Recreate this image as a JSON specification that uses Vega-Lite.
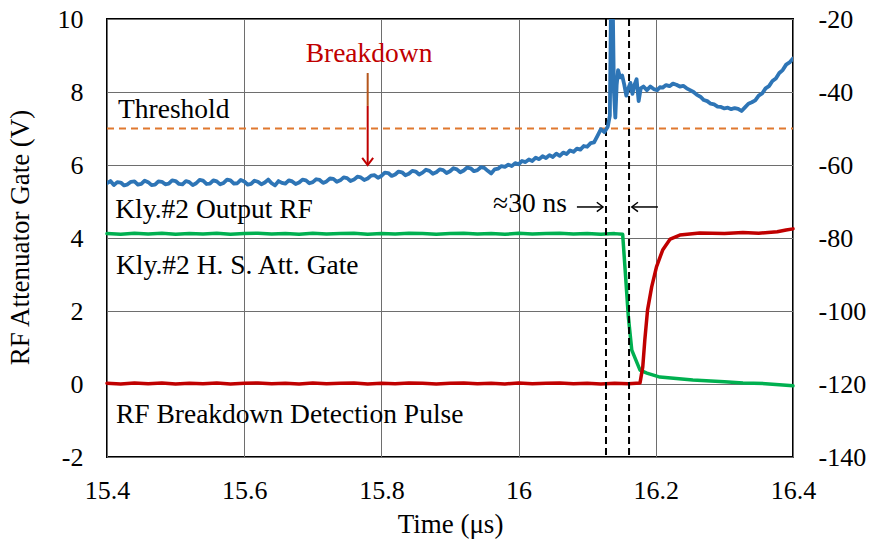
{
  "$schema": "https://vega.github.io/schema/vega-lite/v6.json",
  "autosize": {"type": "none"},
  "padding": {"left": 107, "top": 19, "right": 78, "bottom": 82},
  "width": 686,
  "height": 438,
  "background": "white",
  "config": {
    "font": "Liberation Serif",
    "view": {"stroke": "black", "strokeWidth": 2},
    "axis": {
      "domain": false,
      "ticks": false,
      "labelFont": "Liberation Serif",
      "labelFontSize": 26,
      "labelColor": "black",
      "labelFlush": false,
      "titleFont": "Liberation Serif",
      "titleFontSize": 27,
      "titleFontWeight": "normal",
      "titleColor": "black",
      "gridColor": "#6e6e6e",
      "gridWidth": 1,
      "gridOpacity": 1
    },
    "text": {"font": "Liberation Serif", "fontSize": 27.5}
  },
  "datasets": {
    "output_rf": [
      {"t": 15.40, "dbm": -65.0}, {"t": 15.405, "dbm": -64.4}, {"t": 15.41, "dbm": -65.5}, {"t": 15.415, "dbm": -64.7}, {"t": 15.42, "dbm": -64.8}, {"t": 15.425, "dbm": -65.6}, {"t": 15.43, "dbm": -65.3},
      {"t": 15.435, "dbm": -64.6}, {"t": 15.44, "dbm": -64.5}, {"t": 15.445, "dbm": -65.4}, {"t": 15.45, "dbm": -65.2}, {"t": 15.455, "dbm": -64.3}, {"t": 15.46, "dbm": -64.7}, {"t": 15.465, "dbm": -65.5}, {"t": 15.47, "dbm": -65.4},
      {"t": 15.475, "dbm": -64.5}, {"t": 15.48, "dbm": -64.6}, {"t": 15.485, "dbm": -65.3}, {"t": 15.49, "dbm": -65.1}, {"t": 15.495, "dbm": -64.2}, {"t": 15.50, "dbm": -64.4}, {"t": 15.505, "dbm": -65.2}, {"t": 15.51, "dbm": -65.3},
      {"t": 15.515, "dbm": -64.4}, {"t": 15.52, "dbm": -64.7}, {"t": 15.525, "dbm": -65.5}, {"t": 15.53, "dbm": -65.0}, {"t": 15.535, "dbm": -64.1}, {"t": 15.54, "dbm": -64.3}, {"t": 15.545, "dbm": -65.2}, {"t": 15.55, "dbm": -65.1},
      {"t": 15.555, "dbm": -64.2}, {"t": 15.56, "dbm": -64.5}, {"t": 15.565, "dbm": -65.3}, {"t": 15.57, "dbm": -64.9}, {"t": 15.575, "dbm": -64.0}, {"t": 15.58, "dbm": -64.2}, {"t": 15.585, "dbm": -65.1}, {"t": 15.59, "dbm": -65.0},
      {"t": 15.595, "dbm": -64.1}, {"t": 15.60, "dbm": -64.5}, {"t": 15.605, "dbm": -65.4}, {"t": 15.61, "dbm": -65.2}, {"t": 15.615, "dbm": -64.3}, {"t": 15.62, "dbm": -64.6}, {"t": 15.625, "dbm": -65.3}, {"t": 15.63, "dbm": -64.8},
      {"t": 15.635, "dbm": -64.0}, {"t": 15.64, "dbm": -65.0}, {"t": 15.645, "dbm": -65.6}, {"t": 15.65, "dbm": -64.4}, {"t": 15.655, "dbm": -64.9}, {"t": 15.66, "dbm": -65.1}, {"t": 15.665, "dbm": -64.2}, {"t": 15.67, "dbm": -64.5},
      {"t": 15.675, "dbm": -65.2}, {"t": 15.68, "dbm": -64.8}, {"t": 15.685, "dbm": -64.0}, {"t": 15.69, "dbm": -64.2}, {"t": 15.695, "dbm": -65.0}, {"t": 15.70, "dbm": -64.7}, {"t": 15.705, "dbm": -63.9}, {"t": 15.71, "dbm": -64.1},
      {"t": 15.715, "dbm": -64.9}, {"t": 15.72, "dbm": -64.5}, {"t": 15.725, "dbm": -63.7}, {"t": 15.73, "dbm": -63.8}, {"t": 15.735, "dbm": -64.6}, {"t": 15.74, "dbm": -64.2}, {"t": 15.745, "dbm": -63.4}, {"t": 15.75, "dbm": -63.6},
      {"t": 15.755, "dbm": -64.4}, {"t": 15.76, "dbm": -64.0}, {"t": 15.765, "dbm": -63.2}, {"t": 15.77, "dbm": -63.4}, {"t": 15.775, "dbm": -64.1}, {"t": 15.78, "dbm": -63.7}, {"t": 15.785, "dbm": -62.9}, {"t": 15.79, "dbm": -62.8},
      {"t": 15.795, "dbm": -63.5}, {"t": 15.80, "dbm": -63.0}, {"t": 15.805, "dbm": -62.1}, {"t": 15.81, "dbm": -62.2}, {"t": 15.815, "dbm": -63.0}, {"t": 15.82, "dbm": -62.6}, {"t": 15.825, "dbm": -61.8}, {"t": 15.83, "dbm": -62.0},
      {"t": 15.835, "dbm": -62.8}, {"t": 15.84, "dbm": -62.4}, {"t": 15.845, "dbm": -61.6}, {"t": 15.85, "dbm": -61.8}, {"t": 15.855, "dbm": -62.6}, {"t": 15.86, "dbm": -62.1}, {"t": 15.865, "dbm": -61.3}, {"t": 15.87, "dbm": -61.6},
      {"t": 15.875, "dbm": -62.4}, {"t": 15.88, "dbm": -62.0}, {"t": 15.885, "dbm": -61.2}, {"t": 15.89, "dbm": -61.4}, {"t": 15.895, "dbm": -62.2}, {"t": 15.90, "dbm": -61.7}, {"t": 15.905, "dbm": -60.9}, {"t": 15.91, "dbm": -61.2},
      {"t": 15.915, "dbm": -62.0}, {"t": 15.92, "dbm": -61.5}, {"t": 15.925, "dbm": -60.7}, {"t": 15.93, "dbm": -60.9}, {"t": 15.935, "dbm": -61.7}, {"t": 15.94, "dbm": -61.4}, {"t": 15.945, "dbm": -60.6}, {"t": 15.95, "dbm": -60.8},
      {"t": 15.955, "dbm": -61.6}, {"t": 15.96, "dbm": -62.3}, {"t": 15.965, "dbm": -61.2}, {"t": 15.97, "dbm": -61.0}, {"t": 15.975, "dbm": -60.3}, {"t": 15.98, "dbm": -60.5}, {"t": 15.985, "dbm": -59.9}, {"t": 15.99, "dbm": -60.3},
      {"t": 15.995, "dbm": -59.5}, {"t": 16.00, "dbm": -59.8}, {"t": 16.005, "dbm": -58.9}, {"t": 16.01, "dbm": -59.2}, {"t": 16.015, "dbm": -58.5}, {"t": 16.02, "dbm": -58.9}, {"t": 16.025, "dbm": -58.0}, {"t": 16.03, "dbm": -58.4},
      {"t": 16.035, "dbm": -57.6}, {"t": 16.04, "dbm": -58.1}, {"t": 16.045, "dbm": -57.3}, {"t": 16.05, "dbm": -57.8}, {"t": 16.055, "dbm": -56.9}, {"t": 16.06, "dbm": -57.5}, {"t": 16.065, "dbm": -56.6}, {"t": 16.07, "dbm": -57.0},
      {"t": 16.075, "dbm": -56.0}, {"t": 16.08, "dbm": -56.4}, {"t": 16.085, "dbm": -55.5}, {"t": 16.09, "dbm": -55.8}, {"t": 16.095, "dbm": -54.8}, {"t": 16.10, "dbm": -55.0}, {"t": 16.105, "dbm": -54.0}, {"t": 16.11, "dbm": -53.8},
      {"t": 16.115, "dbm": -52.0}, {"t": 16.12, "dbm": -50.2}, {"t": 16.125, "dbm": -51.0}, {"t": 16.13, "dbm": -49.5},
      {"t": 16.133, "dbm": -46.5}, {"t": 16.135, "dbm": -10.0}, {"t": 16.137, "dbm": -12.0}, {"t": 16.139, "dbm": -40.0},
      {"t": 16.141, "dbm": -47.0}, {"t": 16.143, "dbm": -38.0}, {"t": 16.145, "dbm": -34.0}, {"t": 16.148, "dbm": -36.0},
      {"t": 16.151, "dbm": -35.5}, {"t": 16.154, "dbm": -38.0}, {"t": 16.157, "dbm": -41.0}, {"t": 16.160, "dbm": -39.0},
      {"t": 16.163, "dbm": -37.5}, {"t": 16.166, "dbm": -40.5}, {"t": 16.169, "dbm": -38.0}, {"t": 16.172, "dbm": -36.5},
      {"t": 16.175, "dbm": -42.5}, {"t": 16.178, "dbm": -39.0}, {"t": 16.182, "dbm": -38.5}, {"t": 16.187, "dbm": -39.5},
      {"t": 16.192, "dbm": -38.5}, {"t": 16.197, "dbm": -39.2}, {"t": 16.202, "dbm": -39.5}, {"t": 16.206, "dbm": -38.7}, {"t": 16.21, "dbm": -38.8},
      {"t": 16.215, "dbm": -38.1}, {"t": 16.22, "dbm": -38.4}, {"t": 16.225, "dbm": -37.7}, {"t": 16.23, "dbm": -38.0}, {"t": 16.235, "dbm": -38.5}, {"t": 16.24, "dbm": -38.3}, {"t": 16.245, "dbm": -39.0}, {"t": 16.25, "dbm": -39.5},
      {"t": 16.255, "dbm": -40.0}, {"t": 16.26, "dbm": -40.8}, {"t": 16.265, "dbm": -41.3}, {"t": 16.27, "dbm": -42.2}, {"t": 16.275, "dbm": -42.5}, {"t": 16.28, "dbm": -43.2}, {"t": 16.285, "dbm": -43.4}, {"t": 16.29, "dbm": -44.0},
      {"t": 16.295, "dbm": -44.1}, {"t": 16.30, "dbm": -44.5}, {"t": 16.305, "dbm": -44.3}, {"t": 16.31, "dbm": -44.7}, {"t": 16.315, "dbm": -44.4}, {"t": 16.32, "dbm": -44.6}, {"t": 16.325, "dbm": -45.2}, {"t": 16.33, "dbm": -44.2},
      {"t": 16.335, "dbm": -43.2}, {"t": 16.34, "dbm": -42.8}, {"t": 16.345, "dbm": -42.3}, {"t": 16.35, "dbm": -41.0}, {"t": 16.355, "dbm": -40.4}, {"t": 16.36, "dbm": -39.0}, {"t": 16.365, "dbm": -38.4}, {"t": 16.37, "dbm": -37.0},
      {"t": 16.375, "dbm": -36.3}, {"t": 16.38, "dbm": -34.8}, {"t": 16.385, "dbm": -34.0}, {"t": 16.39, "dbm": -32.5}, {"t": 16.395, "dbm": -31.9}, {"t": 16.40, "dbm": -30.8}
    ],
    "att_gate": [
      {"t": 15.40, "v": 4.12}, {"t": 15.42, "v": 4.10}, {"t": 15.44, "v": 4.13}, {"t": 15.46, "v": 4.11},
      {"t": 15.48, "v": 4.13}, {"t": 15.50, "v": 4.10}, {"t": 15.52, "v": 4.12}, {"t": 15.54, "v": 4.11},
      {"t": 15.56, "v": 4.13}, {"t": 15.58, "v": 4.10}, {"t": 15.60, "v": 4.12}, {"t": 15.62, "v": 4.13},
      {"t": 15.64, "v": 4.11}, {"t": 15.66, "v": 4.12}, {"t": 15.68, "v": 4.10}, {"t": 15.70, "v": 4.13},
      {"t": 15.72, "v": 4.11}, {"t": 15.74, "v": 4.12}, {"t": 15.76, "v": 4.13}, {"t": 15.78, "v": 4.10},
      {"t": 15.80, "v": 4.12}, {"t": 15.82, "v": 4.11}, {"t": 15.84, "v": 4.13}, {"t": 15.86, "v": 4.12},
      {"t": 15.88, "v": 4.10}, {"t": 15.90, "v": 4.12}, {"t": 15.92, "v": 4.13}, {"t": 15.94, "v": 4.11},
      {"t": 15.96, "v": 4.12}, {"t": 15.98, "v": 4.10}, {"t": 16.00, "v": 4.13}, {"t": 16.02, "v": 4.11},
      {"t": 16.04, "v": 4.12}, {"t": 16.06, "v": 4.13}, {"t": 16.08, "v": 4.11}, {"t": 16.10, "v": 4.12},
      {"t": 16.12, "v": 4.10}, {"t": 16.14, "v": 4.12}, {"t": 16.1517, "v": 4.10}, {"t": 16.155, "v": 3.21},
      {"t": 16.160, "v": 1.84}, {"t": 16.165, "v": 0.93}, {"t": 16.177, "v": 0.38}, {"t": 16.187, "v": 0.30},
      {"t": 16.206, "v": 0.19}, {"t": 16.23, "v": 0.15}, {"t": 16.254, "v": 0.11}, {"t": 16.28, "v": 0.08},
      {"t": 16.30, "v": 0.06}, {"t": 16.327, "v": 0.03}, {"t": 16.36, "v": 0.01}, {"t": 16.40, "v": -0.05}
    ],
    "detection_pulse": [
      {"t": 15.40, "v": 0.02}, {"t": 15.42, "v": 0.00}, {"t": 15.44, "v": 0.03}, {"t": 15.46, "v": 0.01},
      {"t": 15.48, "v": 0.03}, {"t": 15.50, "v": 0.00}, {"t": 15.52, "v": 0.02}, {"t": 15.54, "v": 0.01},
      {"t": 15.56, "v": 0.03}, {"t": 15.58, "v": 0.00}, {"t": 15.60, "v": 0.02}, {"t": 15.62, "v": 0.03},
      {"t": 15.64, "v": 0.01}, {"t": 15.66, "v": 0.02}, {"t": 15.68, "v": 0.00}, {"t": 15.70, "v": 0.03},
      {"t": 15.72, "v": 0.01}, {"t": 15.74, "v": 0.02}, {"t": 15.76, "v": 0.03}, {"t": 15.78, "v": 0.00},
      {"t": 15.80, "v": 0.02}, {"t": 15.82, "v": 0.01}, {"t": 15.84, "v": 0.03}, {"t": 15.86, "v": 0.02},
      {"t": 15.88, "v": 0.00}, {"t": 15.90, "v": 0.02}, {"t": 15.92, "v": 0.03}, {"t": 15.94, "v": 0.01},
      {"t": 15.96, "v": 0.02}, {"t": 15.98, "v": 0.00}, {"t": 16.00, "v": 0.03}, {"t": 16.02, "v": 0.01},
      {"t": 16.04, "v": 0.02}, {"t": 16.06, "v": 0.03}, {"t": 16.08, "v": 0.01}, {"t": 16.10, "v": 0.02},
      {"t": 16.12, "v": 0.00}, {"t": 16.14, "v": 0.02}, {"t": 16.16, "v": 0.01}, {"t": 16.177, "v": 0.03},
      {"t": 16.181, "v": 0.47}, {"t": 16.184, "v": 1.21}, {"t": 16.188, "v": 2.03}, {"t": 16.194, "v": 2.66},
      {"t": 16.201, "v": 3.21}, {"t": 16.210, "v": 3.67}, {"t": 16.221, "v": 3.97}, {"t": 16.235, "v": 4.08},
      {"t": 16.264, "v": 4.14}, {"t": 16.30, "v": 4.12}, {"t": 16.327, "v": 4.15}, {"t": 16.35, "v": 4.13},
      {"t": 16.377, "v": 4.17}, {"t": 16.39, "v": 4.22}, {"t": 16.40, "v": 4.25}
    ],
    "trace_labels": [
      {"t": 15.416, "v": 7.29, "label": "Threshold"},
      {"t": 15.412, "v": 4.55, "label": "Kly.#2 Output RF"},
      {"t": 15.413, "v": 3.01, "label": "Kly.#2 H. S. Att. Gate"},
      {"t": 15.413, "v": -1.07, "label": "RF Breakdown Detection Pulse"}
    ],
    "window_marks": [{"t": 16.1274}, {"t": 16.161}]
  },
  "encoding": {
    "x": {
      "field": "t", "type": "quantitative",
      "scale": {"domain": [15.4, 16.4], "nice": false, "zero": false},
      "axis": {
        "values": [15.4, 15.6, 15.8, 16.0, 16.2, 16.4],
        "format": ".1~f",
        "grid": true,
        "labelPadding": 20,
        "title": "Time (μs)",
        "titleY": 75,
        "titleBaseline": "alphabetic"
      }
    }
  },
  "layer": [
    {
      "data": {"name": "att_gate"},
      "mark": {"type": "line", "color": "#00b050", "strokeWidth": 3.5, "strokeJoin": "round", "strokeCap": "round"},
      "encoding": {
        "y": {
          "field": "v", "type": "quantitative",
          "scale": {"domain": [-2, 10], "nice": false, "zero": false},
          "axis": {
            "values": [-2, 0, 2, 4, 6, 8, 10],
            "labelExpr": "'' + datum.value",
            "grid": true,
            "labelPadding": 24,
            "title": "RF Attenuator Gate (V)",
            "titleX": -79,
            "titleY": 218,
            "titleAngle": 270,
            "titleAlign": "center",
            "titleBaseline": "alphabetic"
          }
        }
      }
    },
    {
      "data": {"name": "detection_pulse"},
      "mark": {"type": "line", "color": "#c00000", "strokeWidth": 3.5, "strokeJoin": "round", "strokeCap": "round"},
      "encoding": {
        "y": {"field": "v", "type": "quantitative", "scale": {"domain": [-2, 10], "nice": false, "zero": false}, "axis": null}
      }
    },
    {
      "data": {"values": [{"t": 15.4, "t2": 16.4, "v": 7}]},
      "mark": {"type": "rule", "color": "#e0782f", "strokeWidth": 2, "strokeDash": [7, 5]},
      "encoding": {
        "x2": {"field": "t2"},
        "y": {"field": "v", "type": "quantitative", "scale": {"domain": [-2, 10], "nice": false, "zero": false}, "axis": null}
      }
    },
    {
      "data": {"name": "window_marks"},
      "mark": {"type": "rule", "color": "black", "strokeWidth": 2, "strokeDash": [7, 4]}
    },
    {
      "data": {"name": "trace_labels"},
      "mark": {"type": "text", "align": "left", "baseline": "alphabetic", "color": "black"},
      "encoding": {
        "y": {"field": "v", "type": "quantitative", "scale": {"domain": [-2, 10], "nice": false, "zero": false}, "axis": null},
        "text": {"field": "label"}
      }
    },
    {
      "data": {"values": [{"t": 15.782, "v": 8.82, "label": "Breakdown"}]},
      "mark": {"type": "text", "align": "center", "baseline": "alphabetic", "color": "#c00000"},
      "encoding": {
        "y": {"field": "v", "type": "quantitative", "scale": {"domain": [-2, 10], "nice": false, "zero": false}, "axis": null},
        "text": {"field": "label"}
      }
    },
    {
      "data": {"values": [{"t": 15.78, "v": 8.52, "v2": 7.62}]},
      "mark": {"type": "rule", "color": "#b5561c", "strokeWidth": 2},
      "encoding": {
        "y": {"field": "v", "type": "quantitative", "scale": {"domain": [-2, 10], "nice": false, "zero": false}, "axis": null},
        "y2": {"field": "v2"}
      }
    },
    {
      "data": {"values": [{"t": 15.78, "v": 7.62, "v2": 6.02}]},
      "mark": {"type": "rule", "color": "#c00000", "strokeWidth": 2},
      "encoding": {
        "y": {"field": "v", "type": "quantitative", "scale": {"domain": [-2, 10], "nice": false, "zero": false}, "axis": null},
        "y2": {"field": "v2"}
      }
    },
    {
      "data": {"values": [{"t": 15.78, "v": 6.0}]},
      "mark": {"type": "point", "shape": "M-1,-1.3L0,0L1,-1.3", "filled": false, "size": 120, "color": "#c00000", "strokeWidth": 2, "opacity": 1},
      "encoding": {
        "y": {"field": "v", "type": "quantitative", "scale": {"domain": [-2, 10], "nice": false, "zero": false}, "axis": null}
      }
    },
    {
      "data": {"values": [{"t": 16.0706, "v": 4.71, "label": "≈30 ns"}]},
      "mark": {"type": "text", "align": "right", "baseline": "alphabetic", "color": "black"},
      "encoding": {
        "y": {"field": "v", "type": "quantitative", "scale": {"domain": [-2, 10], "nice": false, "zero": false}, "axis": null},
        "text": {"field": "label"}
      }
    },
    {
      "data": {"values": [{"t": 16.085, "t2": 16.122, "v": 4.85}, {"t": 16.166, "t2": 16.203, "v": 4.85}]},
      "mark": {"type": "rule", "color": "black", "strokeWidth": 1.5},
      "encoding": {
        "x2": {"field": "t2"},
        "y": {"field": "v", "type": "quantitative", "scale": {"domain": [-2, 10], "nice": false, "zero": false}, "axis": null}
      }
    },
    {
      "data": {"values": [{"t": 16.123, "v": 4.85}]},
      "mark": {"type": "point", "shape": "M-1.3,-1L0,0L-1.3,1", "filled": false, "size": 90, "color": "black", "strokeWidth": 1.5, "opacity": 1},
      "encoding": {
        "y": {"field": "v", "type": "quantitative", "scale": {"domain": [-2, 10], "nice": false, "zero": false}, "axis": null}
      }
    },
    {
      "data": {"values": [{"t": 16.165, "v": 4.85}]},
      "mark": {"type": "point", "shape": "M1.3,-1L0,0L1.3,1", "filled": false, "size": 90, "color": "black", "strokeWidth": 1.5, "opacity": 1},
      "encoding": {
        "y": {"field": "v", "type": "quantitative", "scale": {"domain": [-2, 10], "nice": false, "zero": false}, "axis": null}
      }
    },
    {
      "data": {"name": "output_rf"},
      "mark": {"type": "line", "color": "#2e75b6", "strokeWidth": 3.8, "strokeJoin": "round", "strokeCap": "round", "clip": true},
      "encoding": {
        "y": {
          "field": "dbm", "type": "quantitative",
          "scale": {"domain": [-140, -20], "nice": false, "zero": false},
          "axis": {
            "orient": "right",
            "values": [-140, -120, -100, -80, -60, -40, -20],
            "labelExpr": "'' + datum.value",
            "grid": false,
            "labelPadding": 25,
            "title": null
          }
        }
      }
    }
  ],
  "resolve": {"scale": {"y": "independent"}}
}
